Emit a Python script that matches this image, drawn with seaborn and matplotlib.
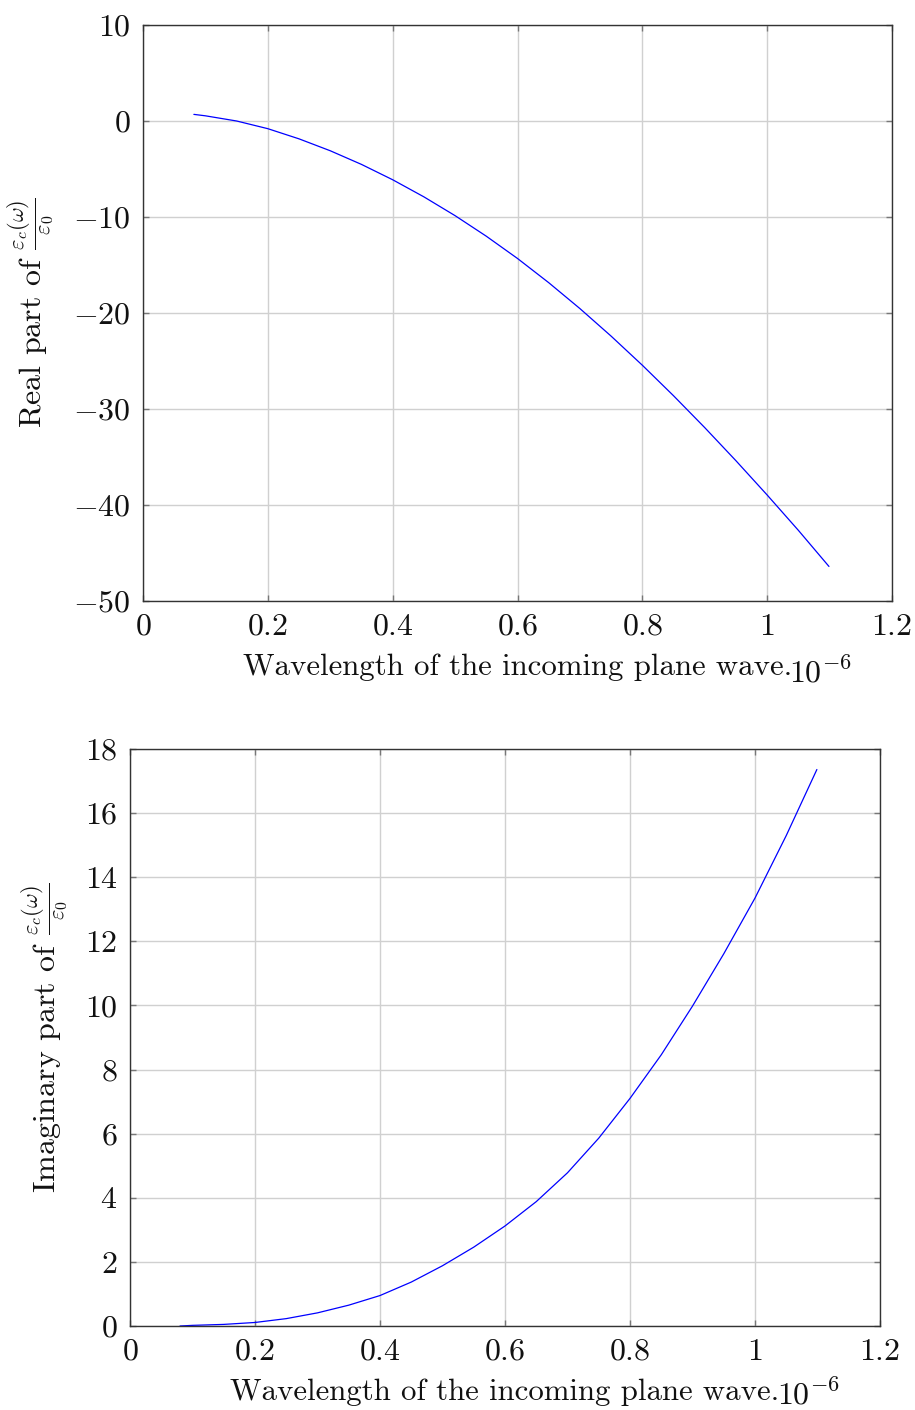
import numpy as np
import pandas as pd
import matplotlib
matplotlib.use("Agg")
import matplotlib.pyplot as plt
import seaborn as sns

# ---- data (wavelength in units of 1e-6 m) ----
wl_real = [0.0815, 0.10, 0.15, 0.20, 0.25, 0.30, 0.35, 0.40, 0.45, 0.50, 0.55,
           0.60, 0.65, 0.70, 0.75, 0.80, 0.85, 0.90, 0.95, 1.00, 1.05, 1.099]
eps_real = [0.69, 0.54, 0.00, -0.80, -1.86, -3.10, -4.52, -6.12, -7.90, -9.86, -12.00,
            -14.32, -16.84, -19.54, -22.41, -25.44, -28.62, -31.94, -35.39, -38.96, -42.64, -46.40]

wl_imag = [0.08, 0.10, 0.15, 0.20, 0.25, 0.30, 0.35, 0.40, 0.45, 0.50, 0.55,
           0.60, 0.65, 0.70, 0.75, 0.80, 0.85, 0.90, 0.95, 1.00, 1.05, 1.099]
eps_imag = [0.00, 0.02, 0.05, 0.11, 0.23, 0.41, 0.65, 0.95, 1.37, 1.88, 2.46,
            3.12, 3.88, 4.78, 5.86, 7.10, 8.46, 9.98, 11.61, 13.35, 15.30, 17.36]

x_ticks = [0, 0.2, 0.4, 0.6, 0.8, 1.0, 1.2]
x_tick_labels = ["0", "0.2", "0.4", "0.6", "0.8", "1", "1.2"]
y_ticks_real = [-50, -40, -30, -20, -10, 0, 10]
y_tick_labels_real = ["-50", "-40", "-30", "-20", "-10", "0", "10"]
y_ticks_imag = [0, 2, 4, 6, 8, 10, 12, 14, 16, 18]
y_tick_labels_imag = ["0", "2", "4", "6", "8", "10", "12", "14", "16", "18"]

x_label = "Wavelength of the incoming plane wave."
y_label_real = r"Real part of $\frac{\varepsilon_c(\omega)}{\varepsilon_0}$"
y_label_imag = r"Imaginary part of $\frac{\varepsilon_c(\omega)}{\varepsilon_0}$"
x_scale_text = r"$10^{-6}$"

sns.set_theme(style="whitegrid")
plt.rcParams.update({
    "font.family": ["cmr10", "DejaVu Serif"],
    "mathtext.fontset": "cm",
    "axes.unicode_minus": True,
    "axes.formatter.use_mathtext": True,
    "font.size": 23,
    "axes.edgecolor": "#333333",
    "axes.linewidth": 1.0,
    "grid.color": "#d0d0d0",
    "grid.linewidth": 1.0,
})

fig = plt.figure(figsize=(9.15, 14.10), dpi=100)
ax1 = fig.add_axes([143 / 915, 1 - 601 / 1410, 749 / 915, 576 / 1410])
ax2 = fig.add_axes([130 / 915, 1 - 1326 / 1410, 750 / 915, 577 / 1410])

df_r = pd.DataFrame({"wl": wl_real, "eps": eps_real})
df_i = pd.DataFrame({"wl": wl_imag, "eps": eps_imag})

sns.lineplot(data=df_r, x="wl", y="eps", ax=ax1, color="#0000ff", linewidth=0.9)
sns.lineplot(data=df_i, x="wl", y="eps", ax=ax2, color="#0000ff", linewidth=0.9)


def style(ax, yticks, ylabels, ylim, ylabel, ylabelpad, ax_h_px, scale_dy):
    ax.set_xlim(0, 1.2)
    ax.set_ylim(*ylim)
    ax.set_xticks(x_ticks)
    ax.set_xticklabels([f"${t}$" for t in x_tick_labels], fontsize=23)
    ax.set_yticks(yticks)
    ax.set_yticklabels([f"${t}$" for t in ylabels], fontsize=23)
    ax.grid(True, color="#d0d0d0", linewidth=1.0)
    ax.set_axisbelow(True)
    for s in ax.spines.values():
        s.set_visible(True)
        s.set_color("#333333")
        s.set_linewidth(1.0)
    ax.tick_params(axis="both", which="major", direction="in", length=4, width=1,
                   color="#777777", top=True, right=True, bottom=True, left=True,
                   labelcolor="#111111")
    ax.tick_params(axis="x", pad=9)
    ax.tick_params(axis="y", pad=9)
    ax.set_xlabel(x_label, fontsize=22.2, color="#111111")
    ax.xaxis.label.set_va("baseline")
    ax.xaxis.set_label_coords(0.5, -74 / ax_h_px)
    ax.set_ylabel(ylabel, fontsize=23, labelpad=ylabelpad, color="#111111")
    ax.text(646 / 749, -scale_dy / ax_h_px, x_scale_text, transform=ax.transAxes,
            ha="left", va="baseline", fontsize=23, color="#111111")


style(ax1, y_ticks_real, y_tick_labels_real, (-50, 10), y_label_real, 12.5, 576, 81)
style(ax2, y_ticks_imag, y_tick_labels_imag, (0, 18), y_label_imag, 10.5, 577, 78)

fig.savefig("out.png", dpi=100)
